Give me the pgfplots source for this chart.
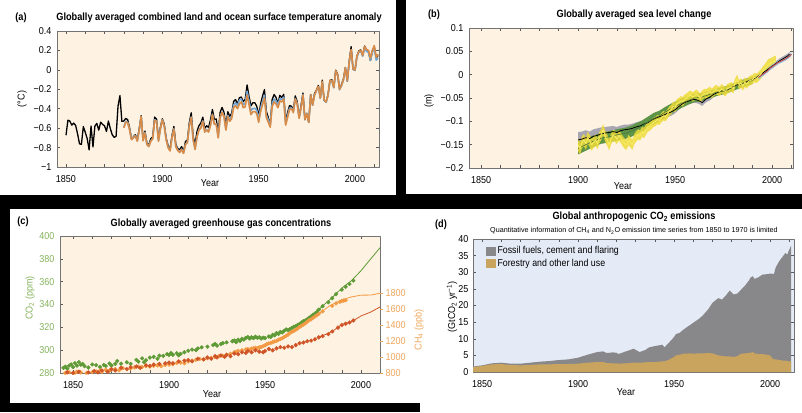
\documentclass[border=0pt]{standalone}
\usepackage{fontspec}
\setmainfont{Liberation Sans}[FakeStretch=0.88]
\newfontfamily\ticfamily{Liberation Sans}[FakeStretch=0.9]
\newfontfamily\titfamily{Liberation Sans}[FakeStretch=0.875]
\newfontfamily\plainfamily{Liberation Sans}
\usepackage{pgfplots}
\usepackage{pgfplotstable}
\pgfplotsset{compat=1.18}

\newcommand\ticfont{\ticfamily\fontsize{10}{11}\selectfont}
\newcommand\titfont{\titfamily\bfseries\fontsize{10.5}{12}\selectfont}

\definecolor{peach}{HTML}{FEF3E2}
\definecolor{lblue}{HTML}{E5EBF6}
\definecolor{tOrange}{HTML}{D98B48}
\definecolor{tBlue}{HTML}{74A6D4}
\definecolor{cwGray}{HTML}{A9A6B3}
\definecolor{rdGreen}{HTML}{5E9447}
\definecolor{jYellow}{HTML}{EEDB3A}
\definecolor{jLine}{HTML}{F7EC60}
\definecolor{satRed}{HTML}{C8423A}
\definecolor{satBlue}{HTML}{9DC3E0}
\definecolor{co2}{HTML}{5E9A36}
\definecolor{ch4}{HTML}{F39A45}
\definecolor{n2o}{HTML}{CF5528}
\definecolor{co2lab}{HTML}{86B35E}
\definecolor{ch4lab}{HTML}{F0A65A}
\definecolor{fossil}{HTML}{88888A}
\definecolor{forest}{HTML}{C8A45E}

\pgfplotstableread{
yr k o b
1850 -0.673 nan nan
1851 -0.518 nan nan
1852 -0.528 nan nan
1853 -0.569 nan nan
1854 -0.548 nan nan
1855 -0.572 nan nan
1856 -0.658 nan nan
1857 -0.761 nan nan
1858 -0.767 nan nan
1859 -0.584 nan nan
1860 -0.643 nan nan
1861 -0.707 nan nan
1862 -0.824 nan nan
1863 -0.578 nan nan
1864 -0.794 nan nan
1865 -0.579 nan nan
1866 -0.551 nan nan
1867 -0.621 nan nan
1868 -0.538 nan nan
1869 -0.562 nan nan
1870 -0.576 nan nan
1871 -0.635 nan nan
1872 -0.527 nan nan
1873 -0.604 nan nan
1874 -0.668 nan nan
1875 -0.695 nan nan
1876 -0.684 nan nan
1877 -0.375 nan nan
1878 -0.265 nan nan
1879 -0.530 nan nan
1880 -0.527 -0.597 -0.590
1881 -0.500 -0.540 -0.530
1882 -0.513 -0.543 -0.540
1883 -0.596 -0.616 -0.610
1884 -0.709 -0.719 -0.715
1885 -0.689 -0.700 -0.695
1886 -0.667 -0.680 -0.675
1887 -0.718 -0.735 -0.730
1888 -0.607 -0.625 -0.620
1889 -0.471 -0.480 -0.480
1890 -0.716 -0.730 -0.725
1891 -0.630 -0.650 -0.645
1892 -0.755 -0.770 -0.765
1893 -0.773 -0.790 -0.785
1894 -0.710 -0.735 -0.730
1895 -0.690 -0.710 -0.705
1896 -0.486 -0.520 -0.515
1897 -0.506 -0.530 -0.525
1898 -0.712 -0.735 -0.730
1899 -0.589 -0.610 -0.605
1900 -0.503 -0.515 -0.510
1901 -0.559 -0.580 -0.575
1902 -0.702 -0.720 -0.715
1903 -0.779 -0.800 -0.795
1904 -0.820 -0.835 -0.830
1905 -0.677 -0.700 -0.695
1906 -0.583 -0.610 -0.605
1907 -0.765 -0.790 -0.785
1908 -0.811 -0.830 -0.825
1909 -0.822 -0.850 -0.845
1910 -0.790 -0.820 -0.815
1911 -0.844 -0.860 -0.855
1912 -0.737 -0.770 -0.765
1913 -0.724 -0.750 -0.745
1914 -0.544 -0.580 -0.575
1915 -0.441 -0.490 -0.485
1916 -0.683 -0.720 -0.715
1917 -0.768 -0.820 -0.815
1918 -0.633 -0.690 -0.685
1919 -0.575 -0.620 -0.615
1920 -0.547 -0.600 -0.595
1921 -0.487 -0.530 -0.525
1922 -0.602 -0.640 -0.635
1923 -0.576 -0.620 -0.615
1924 -0.594 -0.640 -0.635
1925 -0.515 -0.570 -0.565
1926 -0.408 -0.460 -0.455
1927 -0.510 -0.560 -0.555
1928 -0.506 -0.560 -0.555
1929 -0.650 -0.700 -0.695
1930 -0.437 -0.490 -0.485
1931 -0.387 -0.440 -0.435
1932 -0.437 -0.480 -0.475
1933 -0.573 -0.620 -0.615
1934 -0.431 -0.480 -0.470
1935 -0.478 -0.530 -0.515
1936 -0.447 -0.500 -0.480
1937 -0.326 -0.390 -0.360
1938 -0.306 -0.370 -0.340
1939 -0.352 -0.400 -0.370
1940 -0.286 -0.350 -0.310
1941 -0.280 -0.330 -0.300
1942 -0.327 -0.390 -0.360
1943 -0.304 -0.380 -0.345
1944 -0.156 -0.260 -0.220
1945 -0.275 -0.360 -0.320
1946 -0.371 -0.460 -0.420
1947 -0.338 -0.430 -0.400
1948 -0.339 -0.430 -0.395
1949 -0.374 -0.450 -0.415
1950 -0.473 -0.540 -0.510
1951 -0.352 -0.430 -0.395
1952 -0.272 -0.360 -0.325
1953 -0.203 -0.290 -0.260
1954 -0.429 -0.490 -0.465
1955 -0.490 -0.540 -0.515
1956 -0.567 -0.590 -0.570
1957 -0.307 -0.380 -0.350
1958 -0.254 -0.330 -0.300
1959 -0.283 -0.350 -0.320
1960 -0.349 -0.390 -0.360
1961 -0.262 -0.320 -0.295
1962 -0.286 -0.330 -0.305
1963 -0.252 -0.300 -0.280
1964 -0.523 -0.570 -0.550
1965 -0.440 -0.490 -0.470
1966 -0.368 -0.410 -0.395
1967 -0.374 -0.400 -0.390
1968 -0.413 -0.440 -0.430
1969 -0.268 -0.300 -0.295
1970 -0.327 -0.350 -0.345
1971 -0.486 -0.500 -0.495
1972 -0.365 -0.390 -0.385
1973 -0.238 -0.260 -0.255
1974 -0.514 -0.510 -0.505
1975 -0.449 -0.450 -0.445
1976 -0.541 -0.540 -0.535
1977 -0.253 -0.260 -0.260
1978 -0.362 -0.360 -0.360
1979 -0.243 -0.260 -0.260
1980 -0.208 -0.210 -0.215
1981 -0.160 -0.170 -0.175
1982 -0.289 -0.290 -0.295
1983 -0.106 -0.120 -0.125
1984 -0.314 -0.310 -0.315
1985 -0.330 -0.330 -0.335
1986 -0.255 -0.260 -0.265
1987 -0.108 -0.110 -0.115
1988 -0.102 -0.110 -0.115
1989 -0.182 -0.180 -0.185
1990 -0.004 -0.010 -0.015
1991 -0.046 -0.050 -0.055
1992 -0.195 -0.200 -0.205
1993 -0.152 -0.160 -0.165
1994 -0.092 -0.100 -0.105
1995 0.025 0.020 0.015
1996 -0.117 -0.110 -0.115
1997 0.090 0.080 0.075
1998 0.239 0.210 0.205
1999 0.006 0.010 0.005
2000 -0.006 0.000 -0.005
2001 0.141 0.140 0.130
2002 0.196 0.190 0.180
2003 0.205 0.200 0.190
2004 0.147 0.150 0.140
2005 0.245 0.240 0.220
2006 0.206 0.210 0.190
2007 0.191 0.200 0.180
2008 0.095 0.120 0.100
2009 0.194 0.200 0.180
2010 0.240 0.250 0.225
2011 0.122 0.130 0.100
2012 0.148 0.160 0.120
}\tempdata

\pgfplotstableread{
yr m e
1900 -0.140 0.017
1902 -0.138 0.016
1904 -0.135 0.016
1906 -0.137 0.015
1908 -0.132 0.015
1910 -0.130 0.015
1912 -0.127 0.014
1914 -0.125 0.013
1916 -0.124 0.013
1918 -0.122 0.012
1920 -0.124 0.012
1922 -0.120 0.011
1924 -0.118 0.011
1926 -0.117 0.010
1928 -0.115 0.010
1930 -0.112 0.010
1932 -0.110 0.010
1934 -0.106 0.009
1936 -0.103 0.009
1938 -0.097 0.009
1940 -0.093 0.009
1942 -0.090 0.008
1944 -0.087 0.008
1946 -0.083 0.008
1948 -0.080 0.008
1950 -0.075 0.008
1952 -0.068 0.007
1954 -0.062 0.007
1956 -0.058 0.007
1958 -0.055 0.007
1960 -0.053 0.007
1962 -0.055 0.007
1964 -0.060 0.007
1966 -0.052 0.007
1968 -0.048 0.007
1970 -0.042 0.006
1972 -0.038 0.006
1974 -0.035 0.006
1976 -0.035 0.006
1978 -0.030 0.006
1980 -0.026 0.006
1982 -0.022 0.006
1984 -0.020 0.006
1986 -0.017 0.005
1988 -0.013 0.005
1990 -0.010 0.005
1992 -0.006 0.005
1994 0.000 0.005
1996 0.006 0.005
1998 0.012 0.005
2000 0.018 0.005
2002 0.024 0.005
2004 0.030 0.005
2006 0.035 0.005
2008 0.040 0.005
2009 0.044 0.005
}\cwdata

\pgfplotstableread{
yr m e
1900 -0.158 0.013
1903 -0.152 0.013
1906 -0.146 0.013
1909 -0.141 0.012
1912 -0.136 0.012
1915 -0.134 0.012
1918 -0.131 0.012
1921 -0.128 0.012
1924 -0.126 0.012
1927 -0.122 0.012
1930 -0.116 0.012
1933 -0.110 0.012
1936 -0.102 0.012
1939 -0.094 0.012
1942 -0.088 0.011
1945 -0.080 0.011
1948 -0.073 0.011
1951 -0.066 0.010
1954 -0.060 0.010
1957 -0.055 0.009
1960 -0.050 0.009
1963 -0.049 0.009
1966 -0.045 0.008
1969 -0.041 0.008
1972 -0.037 0.008
1975 -0.034 0.008
1978 -0.030 0.008
1981 -0.025 0.008
1984 -0.020 0.008
1987 -0.016 0.008
1990 -0.012 0.008
}\rddata

\pgfplotstableread{
yr m e
1900 -0.150 0.013
1901 -0.158 0.013
1902 -0.145 0.013
1903 -0.140 0.013
1904 -0.148 0.013
1905 -0.135 0.013
1906 -0.142 0.013
1907 -0.150 0.013
1908 -0.145 0.012
1909 -0.140 0.012
1910 -0.148 0.012
1911 -0.135 0.012
1912 -0.128 0.012
1913 -0.118 0.012
1914 -0.132 0.012
1915 -0.140 0.012
1916 -0.150 0.012
1917 -0.138 0.012
1918 -0.130 0.012
1919 -0.132 0.012
1920 -0.138 0.011
1921 -0.130 0.011
1922 -0.135 0.011
1923 -0.142 0.011
1924 -0.148 0.011
1925 -0.150 0.011
1926 -0.140 0.011
1927 -0.145 0.011
1928 -0.150 0.011
1929 -0.138 0.011
1930 -0.132 0.011
1931 -0.128 0.011
1932 -0.130 0.011
1933 -0.122 0.011
1934 -0.125 0.011
1935 -0.118 0.011
1936 -0.112 0.010
1937 -0.110 0.010
1938 -0.106 0.010
1939 -0.102 0.010
1940 -0.100 0.010
1941 -0.096 0.010
1942 -0.098 0.010
1943 -0.092 0.010
1944 -0.088 0.010
1945 -0.090 0.010
1946 -0.085 0.010
1947 -0.078 0.010
1948 -0.075 0.010
1949 -0.068 0.010
1950 -0.070 0.010
1951 -0.062 0.010
1952 -0.060 0.010
1953 -0.056 0.010
1954 -0.058 0.010
1955 -0.052 0.010
1956 -0.050 0.010
1957 -0.046 0.010
1958 -0.044 0.010
1959 -0.048 0.010
1960 -0.045 0.010
1961 -0.042 0.010
1962 -0.046 0.010
1963 -0.050 0.010
1964 -0.044 0.010
1965 -0.040 0.010
1966 -0.042 0.010
1967 -0.038 0.010
1968 -0.036 0.010
1969 -0.040 0.010
1970 -0.036 0.010
1971 -0.032 0.010
1972 -0.034 0.010
1973 -0.036 0.010
1974 -0.030 0.010
1975 -0.034 0.010
1976 -0.036 0.010
1977 -0.030 0.010
1978 -0.028 0.010
1979 -0.026 0.010
1980 -0.030 0.010
1981 -0.018 0.010
1982 -0.010 0.010
1983 -0.022 0.010
1984 -0.018 0.010
1985 -0.024 0.010
1986 -0.016 0.010
1987 -0.020 0.010
1988 -0.014 0.010
1989 -0.012 0.010
1990 -0.010 0.010
1991 -0.006 0.010
1992 -0.008 0.010
1993 -0.004 0.010
1994 0.000 0.010
1995 0.006 0.010
1996 0.010 0.011
1997 0.016 0.011
1998 0.022 0.011
1999 0.024 0.011
2000 0.026 0.011
2001 0.028 0.011
2002 0.030 0.011
}\jedata

\pgfplotstableread{
yr m e
1993 -0.006 0.004
1994 -0.003 0.004
1995 0.000 0.004
1996 0.003 0.004
1997 0.006 0.004
1998 0.010 0.004
1999 0.014 0.004
2000 0.017 0.004
2001 0.020 0.004
2002 0.023 0.004
2003 0.026 0.004
2004 0.028 0.004
2005 0.030 0.004
2006 0.032 0.004
2007 0.034 0.004
2008 0.037 0.004
2009 0.040 0.004
2010 0.044 0.004
}\satdata

\pgfplotstableread{
yr v
1845 284.5
1846 285.5
1847 283.8
1848 286.5
1849 287.5
1850 285.2
1851 288.6
1852 286.4
1853 289.5
1854 287.2
1855 288.0
1856 286.0
1858 284.8
1860 287.5
1862 286.9
1864 285.3
1866 287.0
1867 286.2
1869 288.3
1870 286.5
1872 288.0
1873 290.5
1875 288.2
1878 289.4
1880 288.0
1883 291.5
1884 290.0
1886 292.8
1887 289.5
1888 291.2
1890 293.5
1892 294.2
1894 292.5
1895 295.2
1897 295.0
1899 296.5
1900 295.8
1901 297.5
1902 296.0
1904 297.3
1905 295.5
1906 296.8
1908 298.2
1910 299.5
1912 300.5
1914 300.0
1915 301.5
1917 302.5
1920 303.0
1923 304.5
1924 305.5
1925 304.0
1927 305.3
1928 306.2
1930 306.8
1933 307.8
1934 308.5
1935 307.0
1936 309.2
1937 308.0
1938 310.0
1939 309.2
1940 310.8
1941 311.5
1942 310.2
1943 311.3
1944 310.5
1945 311.8
1946 310.8
1947 311.3
1948 310.2
1949 311.0
1950 310.6
1952 312.0
1953 311.5
1954 313.5
1955 313.0
1956 315.0
1957 314.2
1958 316.0
1959 315.5
1960 317.0
1961 318.2
1962 317.5
1963 318.5
1964 319.5
1965 320.5
1966 321.0
1967 322.2
1968 323.0
1969 324.2
1970 325.5
1971 326.0
1972 327.0
1973 328.5
1974 329.5
1975 331.0
1976 332.0
1977 333.5
1978 335.5
1980 338.5
1983 342.0
1985 345.5
1987 349.0
1990 353.0
1992 355.5
1994 358.0
1996 361.0
}\cotwodots

\pgfplotstableread{
yr v
1978 335.5
1980 338.7
1985 346.1
1990 354.4
1995 360.8
2000 369.6
2005 379.8
2010 389.9
}\cotwoline

\pgfplotstableread{
yr v
1845 785
1846 800
1847 790
1848 810
1849 795
1850 790
1851 805
1852 815
1853 798
1854 808
1855 792
1857 800
1860 810
1862 820
1864 830
1865 815
1867 840
1869 830
1870 845
1872 850
1874 835
1876 860
1880 855
1882 870
1884 880
1886 875
1888 885
1890 880
1892 890
1894 895
1896 885
1898 900
1900 905
1902 910
1904 925
1906 930
1908 920
1910 945
1912 955
1914 965
1916 975
1918 970
1920 985
1922 990
1924 1000
1926 1010
1928 1015
1930 1030
1932 1040
1934 1060
1935 1065
1936 1075
1938 1085
1940 1095
1941 1100
1942 1090
1943 1105
1944 1110
1945 1115
1946 1110
1947 1120
1948 1125
1949 1135
1950 1145
1951 1160
1952 1170
1953 1175
1954 1185
1955 1195
1956 1200
1957 1215
1958 1225
1959 1235
1960 1250
1961 1265
1962 1280
1963 1300
1964 1315
1965 1325
1966 1340
1967 1355
1968 1375
1969 1390
1970 1405
1971 1420
1972 1440
1973 1460
1974 1470
1975 1490
1976 1505
1977 1520
1978 1540
1980 1570
1985 1640
1987 1670
1989 1690
1990 1700
1991 1705
1992 1710
}\chfourdots

\pgfplotstableread{
yr v
1978 1540
1984 1645
1990 1714
1995 1751
2000 1773
2005 1774
2007 1782
2010 1799
}\chfourline

\pgfplotstableread{
yr v
1845 271
1847 272.5
1849 270.5
1850 272
1852 271
1853 273
1855 271.5
1858 272.5
1861 273.5
1863 272.5
1865 274
1868 273
1870 275
1872 274
1875 276
1878 275
1880 276.5
1883 277
1885 276
1888 278
1890 277.5
1892 278.5
1895 279
1898 279.5
1900 280
1902 279.5
1905 281
1908 281.5
1910 282
1912 281
1915 283
1918 282.5
1920 284
1922 283
1924 285
1925 284
1927 285.5
1929 284.5
1930 286
1932 285
1934 287
1936 286.5
1938 288
1940 287.5
1941 289
1943 288
1945 289.5
1947 288.5
1949 288
1950 289
1952 290.5
1954 289.5
1956 291
1958 292
1960 291.5
1962 292.5
1964 292
1966 293.5
1968 295
1970 295.5
1972 296.5
1974 297
1976 298
1978 299.5
1980 300.5
1983 302
1985 304
1988 307
1990 309
1992 310
1994 311
1996 312.5
}\ntwoodots

\pgfplotstableread{
yr v
1978 299.5
1985 304
1990 309.5
1995 311.5
2000 316
2005 319
2010 323
}\ntwooline

\pgfplotstableread{
yr for tot
1845 1.5 1.6
1850 1.8 2.0
1855 2.3 2.6
1860 2.4 2.8
1865 2.1 2.5
1870 2.0 2.5
1875 2.1 2.8
1880 2.3 3.1
1885 2.3 3.3
1890 2.4 3.6
1895 2.4 3.8
1900 2.5 4.3
1905 2.8 5.2
1910 3.0 6.0
1913 3.0 6.2
1915 2.7 5.7
1918 2.6 5.9
1920 2.6 5.8
1921 2.5 5.4
1925 2.6 6.2
1929 2.8 7.0
1932 2.8 6.0
1935 2.9 6.6
1937 3.0 7.4
1940 3.0 7.8
1944 3.2 8.2
1945 3.2 7.4
1947 3.6 8.6
1950 4.5 10.5
1951 5.0 11.4
1953 5.2 11.8
1955 5.5 12.8
1958 5.6 14.0
1960 5.5 14.8
1963 5.6 16.0
1965 5.6 17.0
1968 5.7 19.0
1970 5.6 20.8
1973 5.0 22.2
1975 4.8 21.8
1977 4.7 23.0
1979 4.7 24.5
1981 4.5 23.3
1983 4.8 23.6
1985 5.5 24.8
1987 5.6 26.0
1989 5.7 27.5
1990 5.8 28.5
1991 6.0 28.8
1992 5.6 28.0
1994 5.4 28.5
1996 5.4 29.3
1998 5.2 29.4
2000 5.0 29.6
2001 4.2 29.6
2002 3.8 29.4
2003 3.8 31.5
2005 3.6 33.5
2007 3.4 35.0
2008 3.4 35.8
2009 3.3 35.3
2010 3.2 36.8
2011 3.2 38.0
}\emis

\pgfplotsset{
  panel/.style={
    scale only axis, anchor=south west,
    axis line style={draw=black!55, line width=0.5pt},
    tick align=inside, major tick length=3pt, minor tick length=3pt,
    tick style={black!65, line width=0.5pt},
    xtick={1850,1900,1950,2000}, xticklabels={1850,1900,1950,2000},
    minor xtick={1860,1870,1880,1890,1910,1920,1930,1940,1960,1970,1980,1990,2010},
    ticklabel style={font=\ticfont},
    xticklabel style={yshift=-5pt},
    yticklabel style={xshift=-2pt},
    line join=round,
  },
  overlay/.style={
    scale only axis, anchor=south west,
  },
  bgeom/.style={
    overlay, at={(469pt,244pt)}, width=324pt, height=140pt,
    xmin=1843.8, xmax=2010.8, ymin=-0.2, ymax=0.1, hide axis,
  },
}

\begin{document}
\begin{tikzpicture}
\fill[black] (0pt,0pt) rectangle (802pt,412pt);
\fill[white] (0pt,217pt) rectangle (396pt,412pt);
\fill[white] (406pt,218pt) rectangle (802pt,412pt);
\fill[white] (10pt,9pt) rectangle (802pt,203pt);
\fill[white] (420pt,0pt) rectangle (802pt,9pt);

% ---------- (a)
\begin{axis}[panel, at={(57pt,245pt)}, width=322pt, height=136pt,
  xmin=1845.33, xmax=2012.46, ymin=-1, ymax=0.4,
  ytick={-1,-0.8,-0.6,-0.4,-0.2,0,0.2,0.4},
  yticklabels={−1,−0.8,−0.6,−0.4,−0.2,0,0.2,0.4},
  axis background/.style={fill=peach}]
\addplot[black, line width=1.3pt] table[x=yr,y=k]{\tempdata};
\addplot[tBlue, line width=1.6pt] table[x=yr,y=b]{\tempdata};
\addplot[tOrange, line width=1.6pt] table[x=yr,y=o]{\tempdata};
\end{axis}
\node[font=\titfont] at (219pt,394pt) {Globally averaged combined land and ocean surface temperature anomaly};
\node[font=\titfont] at (21pt,394pt) {(a)};
\node[font=\ticfont, rotate=90] at (22pt,313pt) {(°C)};
\node[font=\ticfont] at (210pt,229pt) {Year};

% ---------- (b)
\begin{axis}[panel, at={(469pt,244pt)}, width=324pt, height=140pt,
  xmin=1843.8, xmax=2010.8, ymin=-0.2, ymax=0.1,
  ytick={-0.2,-0.15,-0.1,-0.05,0,0.05,0.1},
  yticklabels={−0.2,−0.15,−0.1,−0.05,0,0.05,0.1},
  axis background/.style={fill=peach}]
\addplot[draw=none, forget plot] coordinates {(1900,0)};
\end{axis}
\begin{axis}[bgeom]
\addplot[draw=none, stack plots=y] table[x=yr, y expr=\thisrow{m}-\thisrow{e}]{\cwdata};
\addplot[fill=cwGray, draw=none, stack plots=y] table[x=yr, y expr=2*\thisrow{e}]{\cwdata} \closedcycle;
\end{axis}
\begin{axis}[bgeom]
\addplot[draw=none, stack plots=y] table[x=yr, y expr=\thisrow{m}-\thisrow{e}]{\rddata};
\addplot[fill=rdGreen, draw=none, stack plots=y] table[x=yr, y expr=2*\thisrow{e}]{\rddata} \closedcycle;
\end{axis}
\begin{axis}[bgeom]
\addplot[draw=none, stack plots=y] table[x=yr, y expr=\thisrow{m}-\thisrow{e}]{\jedata};
\addplot[fill=jYellow, fill opacity=0.85, draw=none, stack plots=y] table[x=yr, y expr=2*\thisrow{e}]{\jedata} \closedcycle;
\end{axis}
\begin{axis}[bgeom]
\addplot[draw=none, stack plots=y] table[x=yr, y expr=\thisrow{m}-\thisrow{e}]{\satdata};
\addplot[fill=satBlue, draw=none, stack plots=y] table[x=yr, y expr=2*\thisrow{e}]{\satdata} \closedcycle;
\end{axis}
\begin{axis}[bgeom, line join=round]
\addplot[black, line width=0.8pt] table[x=yr,y=m]{\cwdata};
\addplot[rdGreen!80!black, line width=0.6pt] table[x=yr,y=m]{\rddata};
\addplot[jLine, line width=0.9pt] table[x=yr,y=m]{\jedata};
\addplot[satRed, line width=0.9pt] table[x=yr,y=m]{\satdata};
\end{axis}
\node[font=\titfont] at (634pt,397pt) {Globally averaged sea level change};
\node[font=\titfont] at (434pt,397pt) {(b)};
\node[font=\ticfont, rotate=90] at (429pt,311pt) {(m)};
\node[font=\ticfont] at (623pt,226pt) {Year};

% ---------- (c)
\begin{axis}[panel, at={(60pt,39pt)}, width=320pt, height=137pt,
  xmin=1843.2, xmax=2009.9, ymin=280, ymax=400,
  ytick={280,300,320,340,360,380,400},
  yticklabels={280,300,320,340,360,380,400},
  ytick pos=left, yticklabel style={text=co2lab},
  axis background/.style={fill=peach}]
\addplot[co2, only marks, mark=*, mark size=1.9pt] table[x=yr,y=v]{\cotwodots};
\addplot[co2, line width=0.8pt] table[x=yr,y=v]{\cotwoline};
\end{axis}
\begin{axis}[overlay, at={(60pt,39pt)}, width=320pt, height=137pt,
  xmin=1843.2, xmax=2009.9, ymin=800, ymax=2512.5,
  axis x line=none, axis y line*=right, axis line style={draw=none},
  ytick={800,1000,1200,1400,1600,1800},
  yticklabels={800,1000,1200,1400,1600,1800},
  tick align=outside, major tick length=3pt,
  tick style={ch4lab, line width=0.6pt},
  yticklabel style={font=\ticfont, text=ch4lab, xshift=-1pt}]
\addplot[ch4, only marks, mark=*, mark size=1.9pt] table[x=yr,y=v]{\chfourdots};
\addplot[ch4, line width=0.8pt] table[x=yr,y=v]{\chfourline};
\end{axis}
\begin{axis}[overlay, at={(60pt,39pt)}, width=320pt, height=137pt,
  xmin=1843.2, xmax=2009.9, ymin=272, ymax=377.7, hide axis]
\addplot[n2o, only marks, mark=*, mark size=1.9pt] table[x=yr,y=v]{\ntwoodots};
\addplot[n2o, line width=0.8pt] table[x=yr,y=v]{\ntwooline};
\end{axis}
\node[font=\titfont] at (221pt,188pt) {Globally averaged greenhouse gas concentrations};
\node[font=\titfont] at (23pt,190pt) {(c)};
\node[font=\ticfont, rotate=90, text=co2lab] at (30pt,114pt) {CO\textsubscript{2} (ppm)};
\node[font=\ticfont, rotate=90, text=ch4lab] at (419pt,82pt) {CH\textsubscript{4} (ppb)};
\node[font=\ticfont] at (212pt,18pt) {Year};

% ---------- (d)
\begin{axis}[panel, at={(473pt,40pt)}, width=321pt, height=133pt,
  xmin=1845.3, xmax=2012.5, ymin=0, ymax=40,
  ytick={0,5,10,15,20,25,30,35,40},
  yticklabels={0,5,10,15,20,25,30,35,40},
  yticklabel style={xshift=1pt},
  axis background/.style={fill=lblue},
  legend style={at={(axis description cs:0.04,0.955)}, anchor=north west,
    draw=none, fill=none, inner sep=0pt, row sep=1pt,
    font=\fontsize{10}{10.5}\selectfont, nodes={inner sep=1.5pt}},
  legend cell align=left,
  legend image code/.code={\fill[#1] (0pt,-4.5pt) rectangle (10pt,4.5pt);}]
\addplot[fill=fossil, draw=none] table[x=yr,y=tot]{\emis} \closedcycle;
\addlegendentry{Fossil fuels, cement and flaring}
\addplot[fill=forest, draw=none] table[x=yr,y=for]{\emis} \closedcycle;
\addlegendentry{Forestry and other land use}
\end{axis}
\node[font=\titfont] at (634pt,195pt) {Global anthropogenic CO\textsubscript{2} emissions};
\node[font=\plainfamily\fontsize{7.2}{8}\selectfont] at (634pt,181pt) {Quantitative information of CH\textsubscript{4} and N\textsubscript{2}O emission time series from 1850 to 1970 is limited};
\node[font=\titfont] at (441pt,187pt) {(d)};
\node[font=\ticfont, rotate=90] at (452pt,105pt) {(GtCO\textsubscript{2} yr\textsuperscript{−1})};
\node[font=\ticfont] at (626pt,20pt) {Year};

\pgfresetboundingbox
\path[use as bounding box] (0pt,0pt) rectangle (802pt,412pt);
\end{tikzpicture}
\end{document}
